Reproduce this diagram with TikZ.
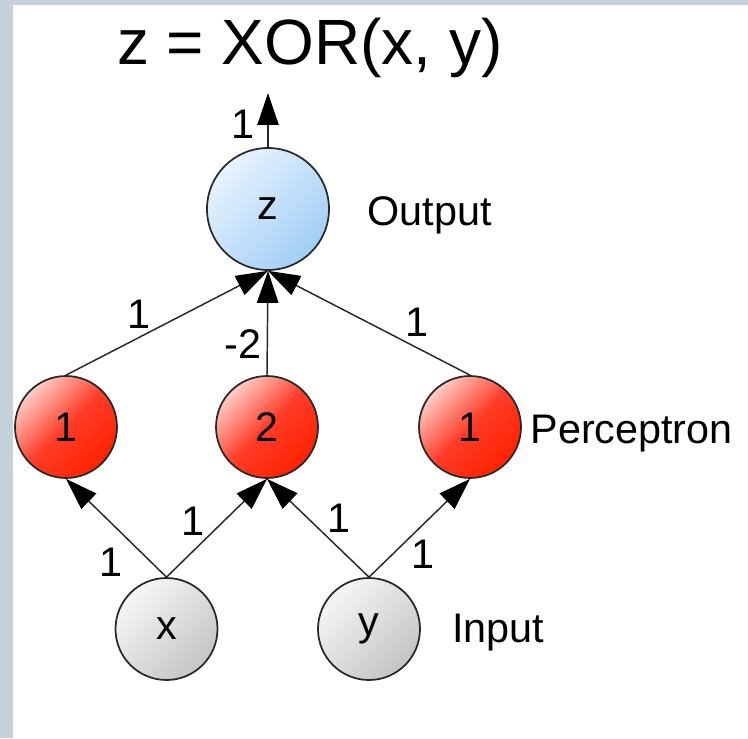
\documentclass[tikz,border=0pt]{standalone}
\usepackage{fontspec}
\setmainfont{Liberation Sans}
\usetikzlibrary{arrows.meta}

\definecolor{framegray}{RGB}{197,208,218}
\definecolor{edgegray}{RGB}{40,40,40}
\definecolor{inlight}{RGB}{246,246,246}
\definecolor{indark}{RGB}{196,196,196}
\definecolor{perclight}{RGB}{255,205,198}
\definecolor{percmid}{RGB}{255,60,40}
\definecolor{percdark}{RGB}{255,34,0}
\definecolor{outlight}{RGB}{232,243,253}
\definecolor{outdark}{RGB}{160,206,246}

\tikzset{every picture/.style={line width=0.75pt}}
\tikzset{
  neuron/.style={circle, draw=edgegray, line width=1.3pt, inner sep=0pt,
    minimum size=76.5pt, font=\fontsize{31}{36}\selectfont},
  inputnode/.style={neuron, top color=inlight, bottom color=indark, shading angle=45},
  percnode/.style={neuron, top color=perclight, bottom color=percdark, middle color=percmid, shading angle=45},
  outnode/.style={neuron, minimum size=91.5pt, top color=outlight, bottom color=outdark, shading angle=45},
  wlabel/.style={inner sep=0pt, font=\fontsize{31}{36}\selectfont},
  layerlabel/.style={anchor=base west, inner sep=0pt, font=\fontsize{31}{36}\selectfont},
  conn/.style={draw=edgegray, line width=1.1pt, -{Triangle[length=24pt,width=16pt,color=black]}}
}

\begin{document}
\begin{tikzpicture}[x=0.75pt,y=0.75pt,yscale=-1,xscale=1]
\path[use as bounding box] (0,0) rectangle (748,738);

% frame
\fill[framegray] (0,0) rectangle (748,738);
\fill[white] (13,5) rectangle (748,738);

% Text Node
\node[anchor=base, inner sep=0pt, font=\fontsize{48}{56}\selectfont] (title) at (310,65) {z = XOR(x, y)};

% Input layer
\node[inputnode] (x) at (166.5,629) {x};
\node[inputnode] (y) at (369,629) {y};

% Perceptron layer
\node[percnode] (p1) at (66,427) {1};
\node[percnode] (p2) at (267,427) {2};
\node[percnode] (p3) at (470,427) {1};

% Output layer
\node[outnode] (z) at (268,209) {z};
\coordinate (zout) at (268,93);

% Connectors
\draw[conn] (x.north) -- (p1.south);
\draw[conn] (x.north) -- (p2.south);
\draw[conn] (y.north) -- (p2.south);
\draw[conn] (y.north) -- (p3.south);
\draw[conn] (p1.north) -- (z.south);
\draw[conn] (p3.north) -- (z.south);
\draw[conn] (p2.north) -- (z.south);
\draw[conn] (z.north) -- (zout);

% Weights
\node[wlabel] (wx1) at (111,562) {1};
\node[wlabel] (wx2) at (193,521) {1};
\node[wlabel] (wy2) at (339,518) {1};
\node[wlabel] (wy3) at (423,554) {1};
\node[wlabel] (wp1) at (139,314) {1};
\node[wlabel] (wp2) at (243,344) {-2};
\node[wlabel] (wp3) at (417,322) {1};
\node[wlabel] (wz) at (243,124) {1};

% Layer names
\node[layerlabel] (outname) at (367,225) {Output};
\node[layerlabel] (percname) at (530,443) {Perceptron};
\node[layerlabel] (inname) at (452,642) {Input};

\end{tikzpicture}
\end{document}
